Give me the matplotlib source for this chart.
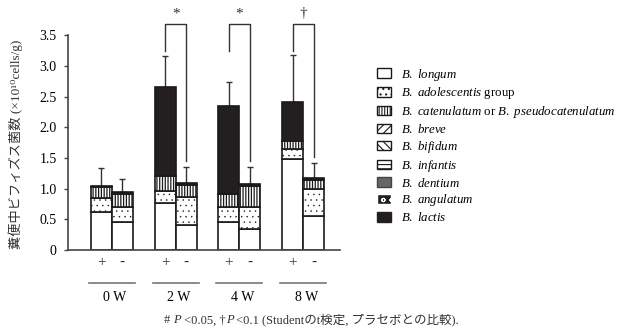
import matplotlib
matplotlib.use('Agg')
import matplotlib.pyplot as plt
import numpy as np
from matplotlib.patches import Patch

FAM = ['Liberation Serif', 'Noto Sans CJK JP', 'DejaVu Serif']
plt.rcParams['font.family'] = FAM
plt.rcParams['mathtext.fontset'] = 'custom'
plt.rcParams['mathtext.it'] = 'Liberation Serif:italic'
plt.rcParams['mathtext.rm'] = 'Liberation Serif'

# data (x10^10 cells/g), order: 0W, 2W, 4W, 8W
weeks = ['0 W', '2 W', '4 W', '8 W']
longum_plus = [0.62, 0.77, 0.45, 1.49]
longum_minus = [0.45, 0.41, 0.35, 0.55]
adolescentis_plus = [0.22, 0.19, 0.25, 0.15]
adolescentis_minus = [0.25, 0.45, 0.35, 0.44]
catenulatum_plus = [0.18, 0.25, 0.22, 0.14]
catenulatum_minus = [0.22, 0.20, 0.34, 0.15]
lactis_plus = [0.03, 1.45, 1.42, 0.63]
lactis_minus = [0.03, 0.03, 0.03, 0.03]
sd_plus = [0.28, 0.50, 0.40, 0.76]
sd_minus = [0.20, 0.26, 0.28, 0.24]
marks = ['*', '*', '†']
mark_groups = [1, 2, 3]

legend_labels = [
    r'$B.\ longum$',
    r'$B.\ adolescentis$ group',
    r'$B.\ catenulatum$ or $B.\ pseudocatenulatum$',
    r'$B.\ breve$',
    r'$B.\ bifidum$',
    r'$B.\ infantis$',
    r'$B.\ dentium$',
    r'$B.\ angulatum$',
    r'$B.\ lactis$',
]


def hatched_bar(ax, xp, h, bottom, hatch, hlw, **kw):
    plt.rcParams['hatch.linewidth'] = hlw
    bars = ax.bar(xp, h, w, bottom=bottom, hatch=hatch, **kw)
    for b in bars:
        if hasattr(b, 'set_hatch_linewidth'):
            b.set_hatch_linewidth(hlw)
    return bars


fig = plt.figure(figsize=(6.23, 3.32), dpi=100)
ax = fig.add_axes([0.109, 0.247, 0.437, 0.647])

w = 0.33
x = np.arange(len(weeks))
edge = '#1a1a1a'
black = '#231f20'

for offs, lon, ado, cat, lac, sd in [
        (-w / 2, longum_plus, adolescentis_plus, catenulatum_plus, lactis_plus, sd_plus),
        (w / 2, longum_minus, adolescentis_minus, catenulatum_minus, lactis_minus, sd_minus)]:
    xp = x + offs
    b1 = np.array(lon)
    b2 = b1 + np.array(ado)
    b3 = b2 + np.array(cat)
    top = b3 + np.array(lac)
    ax.bar(xp, lon, w, color='white', edgecolor=edge, linewidth=1.2, zorder=2)
    hatched_bar(ax, xp, ado, b1, '...', 0.3, color='white', edgecolor=edge,
                linewidth=1.2, zorder=2)
    hatched_bar(ax, xp, cat, b2, '||||||', 0.9, color='white', edgecolor=edge,
                linewidth=1.2, zorder=2)
    ax.bar(xp, lac, w, bottom=b3, color=black, edgecolor=edge, linewidth=1.2, zorder=2)
    ax.errorbar(xp, top, yerr=[np.zeros(len(x)), sd], fmt='none', ecolor='#333333',
                elinewidth=1, capsize=2.5, capthick=1, zorder=1)

# significance brackets
cap_minus = np.array(lactis_minus) + np.array(catenulatum_minus) + \
    np.array(adolescentis_minus) + np.array(longum_minus) + np.array(sd_minus)
for m, g in zip(marks, mark_groups):
    xl, xr = x[g] - w / 2, x[g] + w / 2
    ax.plot([xl, xl, xr, xr], [3.25, 3.69, 3.69, cap_minus[g] + 0.1],
            color='#333333', lw=1, clip_on=False)
    ax.text(x[g], 3.74, m, ha='center', va='bottom', fontsize=11, color='#333333')

ax.set_ylim(0, 3.5)
ax.set_xlim(-0.69, 3.58)
ax.set_yticks([0, 0.5, 1.0, 1.5, 2.0, 2.5, 3.0, 3.5])
ax.set_yticklabels(['0', '0.5', '1.0', '1.5', '2.0', '2.5', '3.0', '3.5'], fontsize=10)
ax.set_xticks([])
for s in ['top', 'right']:
    ax.spines[s].set_visible(False)
ax.spines['left'].set_color('#444444')
ax.spines['bottom'].set_color('#444444')
ax.spines['left'].set_linewidth(1.2)
ax.spines['bottom'].set_linewidth(1.2)
ax.tick_params(axis='y', direction='out', length=3, width=1, color='#444444', pad=5)

for i, wk in enumerate(weeks):
    ax.text(x[i] - w / 2, -0.2, '+', ha='center', va='center', fontsize=11, color='#333333')
    ax.text(x[i] + w / 2, -0.2, '-', ha='center', va='center', fontsize=11, color='#333333')
    ax.plot([x[i] - w - 0.03, x[i] + w + 0.03], [-0.54, -0.54], color='#777777',
            lw=1.2, clip_on=False)
    ax.text(x[i] + 0.05, -0.77, wk, ha='center', va='center', fontsize=10)

fig.text(0.025, 0.565, '糞便中ビフィズス菌数 (×10¹⁰cells/g)', rotation=90,
         ha='center', va='center', fontsize=9.5, color='#333333')

plt.rcParams['hatch.linewidth'] = 0.8
handles = [
    Patch(facecolor='white', edgecolor=edge),
    Patch(facecolor='white', edgecolor=edge, hatch='...'),
    Patch(facecolor='white', edgecolor=edge, hatch='||||||'),
    Patch(facecolor='white', edgecolor=edge, hatch='////'),
    Patch(facecolor='white', edgecolor=edge, hatch='\\\\\\\\'),
    Patch(facecolor='white', edgecolor=edge, hatch='----'),
    Patch(facecolor='#666666', edgecolor='#444444'),
    Patch(facecolor=black, edgecolor='white', hatch='oo'),
    Patch(facecolor=black, edgecolor=black),
]
fig.legend(handles, legend_labels, loc='upper left', bbox_to_anchor=(0.597, 0.815),
           frameon=False, fontsize=9.3, handlelength=1.1, handleheight=0.75,
           handletextpad=0.75, labelspacing=0.22, borderaxespad=0)

# footnote with italic P
pieces = [('# ', 'normal'), ('P', 'italic'), (' <0.05, †', 'normal'), ('P', 'italic'),
          (' <0.1 (Studentのt検定, プラセボとの比較).', 'normal')]
renderer = fig.canvas.get_renderer()
texts = []
for s, st in pieces:
    texts.append(fig.text(0, 0.035, s, style=st, fontsize=9, color='#333333',
                          ha='left', va='center'))
widths = [t.get_window_extent(renderer).width for t in texts]
xpix = fig.bbox.width / 2 - sum(widths) / 2
for t, wd in zip(texts, widths):
    t.set_x(xpix / fig.bbox.width)
    xpix += wd

fig.savefig('out.png', dpi=100)
